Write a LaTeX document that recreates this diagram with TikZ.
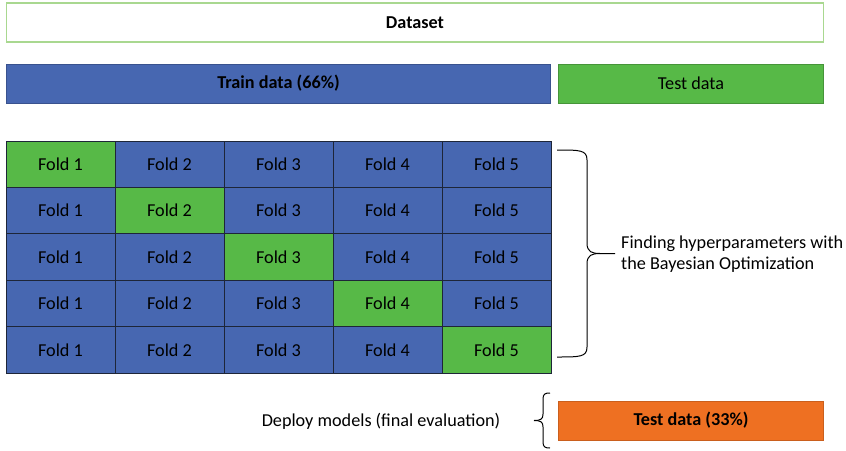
\documentclass[tikz,border=0pt]{standalone}
\usepackage{fontspec}
\setmainfont{Carlito}

\definecolor{foldblue}{HTML}{4767B1}
\definecolor{foldgreen}{HTML}{57B947}
\definecolor{testorange}{HTML}{EE7022}
\definecolor{lightgreen}{HTML}{A9D890}
\definecolor{cellline}{HTML}{1E2638}

\begin{document}
\begin{tikzpicture}[x=1pt, y=-1pt, font=\fontsize{18.2}{21}\selectfont,
        bar/.style={minimum height=39, inner sep=0pt},
        cell/.style={draw=cellline, line width=0.8pt, fill=foldblue, minimum width=109, minimum height=46.4, inner sep=0pt}]
        \useasboundingbox (0,0) rectangle (846,450);

        % top row: dataset and the split
        \node [bar, draw=lightgreen, line width=1.2pt, minimum width=817, font=\fontsize{18.2}{21}\selectfont\bfseries] (dataset) at (415,22.5) {Dataset};
        \node [bar, draw=foldblue!80!black, fill=foldblue, minimum width=544, font=\fontsize{18.2}{21}\selectfont\bfseries] (train) at (278.5,83.5) {Train data (66\%)};
        \node [bar, draw=foldgreen!80!black, fill=foldgreen, minimum width=265] (test) at (691,83.5) {Test data};

        % the five folds
        \foreach \r in {1, 2, ..., 5}
        {
            \foreach \c in {1, 2, ..., 5}
            {
                \node [cell] (f\r\c) at ({60.5+109*(\c-1)}, {164.2+46.4*(\r-1)}) {Fold \c};
            }
            \node [cell, fill=foldgreen] (g\r) at ({60.5+109*(\r-1)}, {164.2+46.4*(\r-1)}) {Fold \r};
        }

        % brace for the search
        \coordinate (b1) at (557,150);
        \coordinate (b2) at (557,357);
        \coordinate (btip) at (615,253.5);
        \draw [line width=1pt] (b1) .. controls (580,150) and (587,150) .. (587,160) -- (587,243)
            .. controls (587,252) and (592,253.5) .. (600,253.5) -- (btip);
        \draw [line width=1pt] (b2) .. controls (580,357) and (587,357) .. (587,347) -- (587,264)
            .. controls (587,255) and (592,253.5) .. (600,253.5);
        \node [anchor=west, align=left, inner sep=0pt] (search) at (621,254) {Finding hyperparameters with\\the Bayesian Optimization};

        % final evaluation
        \node [bar, draw=testorange!85!black, fill=testorange, minimum width=265, font=\fontsize{18.2}{21}\selectfont\bfseries] (final) at (691,420.5) {Test data (33\%)};
        \coordinate (s1) at (550,393);
        \coordinate (s2) at (550,448);
        \coordinate (stip) at (534,420.5);
        \draw [line width=1pt] (s1) .. controls (545,393) and (543,394) .. (543,399) -- (543,414)
            .. controls (543,419) and (541,420.5) .. (stip);
        \draw [line width=1pt] (s2) .. controls (545,448) and (543,447) .. (543,442) -- (543,427)
            .. controls (543,422) and (541,420.5) .. (stip);
        \node (deploy) at (381,421) {Deploy models (final evaluation)};
    \end{tikzpicture}
\end{document}
